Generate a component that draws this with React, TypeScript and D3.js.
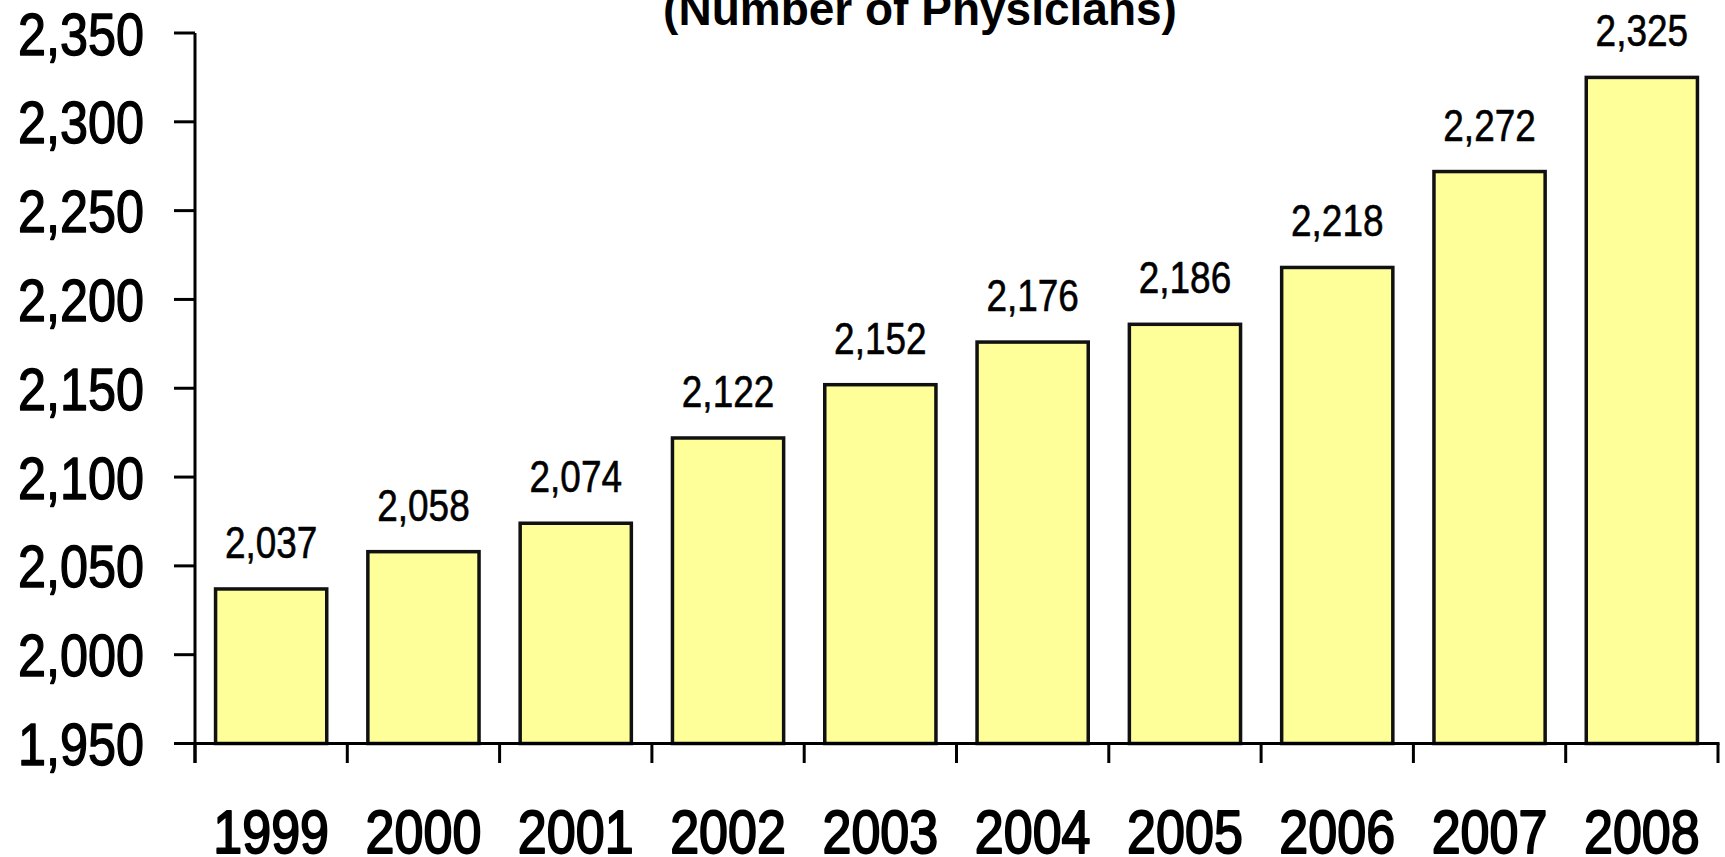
import React from "react";
import * as d3 from "d3";

const years = ["1999", "2000", "2001", "2002", "2003", "2004", "2005", "2006", "2007", "2008"];
const physicians = [2037, 2058, 2074, 2122, 2152, 2176, 2186, 2218, 2272, 2325];
const yTicks = [1950, 2000, 2050, 2100, 2150, 2200, 2250, 2300, 2350];
const title = "(Number of Physicians)";

const W = 1725;
const H = 857;
const sans = "'Liberation Sans', Arial, sans-serif";
const SX = 0.84;
const fmt = d3.format(",");

function NarrowText(props: {
  x: number;
  y: number;
  size: number;
  anchor: "start" | "middle" | "end";
  weight?: number;
  children: React.ReactNode;
}) {
  return (
    <g transform={`translate(${props.x},${props.y}) scale(${SX},1)`}>
      <text
        x={0}
        y={0}
        textAnchor={props.anchor}
        fontFamily={sans}
        fontSize={props.size}
        fill="#000"
        stroke="#000"
        strokeWidth={props.weight ?? 0}
        strokeLinejoin="round"
      >
        {props.children}
      </text>
    </g>
  );
}

export default function App() {
  const x = d3.scaleBand<string>().domain(years).range([195, 1718]).paddingInner(0.27).paddingOuter(0.135);
  const y = d3.scaleLinear().domain([1950, 2350]).range([743.5, 33]);
  const step = x.step();
  const boundaries = d3.range(years.length + 1).map((i) => 195 + i * step);

  return (
    <svg
      width={W}
      height={H}
      style={{ position: "absolute", left: 0, top: 0, background: "#fff" }}
    >
      <text
        x={920}
        y={25}
        textAnchor="middle"
        fontFamily={sans}
        fontWeight="bold"
        fontSize={46}
        fill="#000"
      >
        {title}
      </text>

      {physicians.map((v, i) => (
        <rect
          key={years[i]}
          x={x(years[i])}
          y={y(v)}
          width={x.bandwidth()}
          height={y(1950) - y(v)}
          fill="#FFFF99"
          stroke="#111"
          strokeWidth={3.5}
        />
      ))}

      {physicians.map((v, i) => (
        <NarrowText
          key={"l" + years[i]}
          x={(x(years[i]) as number) + x.bandwidth() / 2}
          y={y(v) - 31}
          anchor="middle"
          size={44}
          weight={0.6}
        >
          {fmt(v)}
        </NarrowText>
      ))}

      {/* y axis */}
      <line x1={195} x2={195} y1={y(2350)} y2={763} stroke="#000" strokeWidth={3} />
      {yTicks.map((t) => (
        <g key={t}>
          <line x1={174} x2={195} y1={y(t)} y2={y(t)} stroke="#000" strokeWidth={3} />
          <NarrowText x={144} y={y(t) + 21.5} anchor="end" size={60} weight={1.4}>
            {fmt(t)}
          </NarrowText>
        </g>
      ))}

      {/* x axis */}
      <line x1={174} x2={boundaries[boundaries.length - 1] + 1.5} y1={y(1950)} y2={y(1950)} stroke="#000" strokeWidth={3} />
      {boundaries.map((b, i) => (
        <line key={"t" + i} x1={b} x2={b} y1={y(1950)} y2={763} stroke="#000" strokeWidth={3} />
      ))}
      {years.map((yr) => (
        <NarrowText
          key={"x" + yr}
          x={(x(yr) as number) + x.bandwidth() / 2}
          y={853}
          anchor="middle"
          size={62}
          weight={2}
        >
          {yr}
        </NarrowText>
      ))}
    </svg>
  );
}
